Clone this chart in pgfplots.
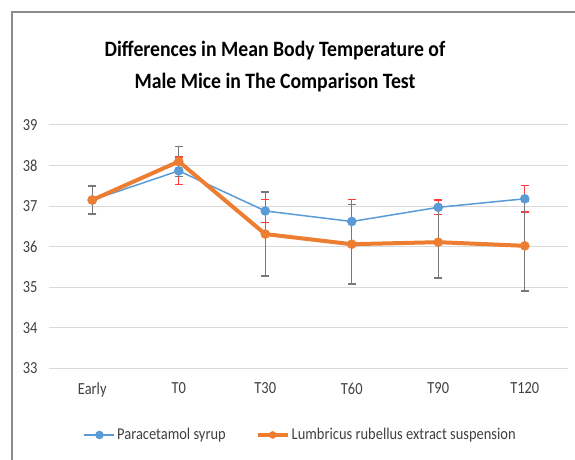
\documentclass[border=0pt]{standalone}
\usepackage{pgfplots}
\pgfplotsset{compat=1.18}
\usepackage{fontspec}
\setmainfont{Carlito}[FakeStretch=0.85]
\newfontfamily\titlefont{Carlito}[FakeStretch=0.9]
\newfontfamily\legfont{Carlito}[FakeStretch=0.88]
\definecolor{blueS}{RGB}{91,155,213}
\definecolor{orangeS}{RGB}{237,125,49}
\definecolor{gridc}{RGB}{217,217,217}
\definecolor{txt}{RGB}{64,64,64}
\definecolor{errR}{RGB}{255,60,60}
\definecolor{errG}{RGB}{120,120,120}
\begin{document}
\begin{tikzpicture}[x=1bp,y=1bp]
\useasboundingbox (0,0) rectangle (575,460);
\draw[color=black!45, line width=1.5bp] (12,-5) -- (12,448) -- (580,448);
\node[font=\titlefont\bfseries\fontsize{22}{33}\selectfont, align=center, text=black] at (275,393.5) {Differences in Mean Body Temperature of\\Male Mice in The Comparison Test};
\begin{axis}[
  at={(49bp,91.7bp)}, anchor=south west,
  scale only axis, width=519bp, height=243.3bp,
  xmin=-0.5, xmax=5.5, ymin=33, ymax=39,
  ytick={33,...,39},
  xtick={0,...,5},
  xticklabels={Early,T0,T30,T60,T90,T120},
  ymajorgrids, grid style={gridc, line width=1bp},
  axis line style={draw=none},
  major tick length=0pt,
  /pgf/number format/assume math mode=true,
  ticklabel style={font=\fontsize{17}{20}\selectfont, text=txt},
  yticklabel style={xshift=-8bp},
  xticklabel style={yshift=-11bp},
  legend columns=2,
  legend style={draw=none, fill=none, at={(0.485,-0.274)}, anchor=center,
    font=\legfont\fontsize{16.5}{19}\selectfont, text=txt,
    /tikz/every even column/.append style={column sep=28bp}},
  legend image code/.code={\draw[mark repeat=2,mark phase=2,mark size=3.5bp] plot coordinates {(0bp,0bp)(15bp,0bp)(30bp,0bp)};},
  clip=false,
]
\addplot[color=blueS, line width=1.5bp, mark=*, mark size=4bp, mark options={solid, fill=blueS, draw=blueS},
  error bars/.cd, y dir=both, y explicit,
  error bar style={color=errR, line width=1.2bp},
  error mark options={color=errR, line width=1.6bp, rotate=90, mark size=4bp}]
  coordinates {
  (0,37.15) +- (0,0.33)
  (1,37.87) +- (0,0.34)
  (2,36.88) +- (0,0.28)
  (3,36.62) +- (0,0.54)
  (4,36.97) +- (0,0.18)
  (5,37.18) +- (0,0.33)
  };
\addlegendentry{Paracetamol syrup}
\addplot[color=orangeS, line width=4bp, mark=*, mark size=4.5bp, mark options={solid, fill=orangeS, draw=orangeS, line width=0.5bp},
  error bars/.cd, y dir=both, y explicit,
  error bar style={color=errG, line width=1.2bp},
  error mark options={color=errG, line width=1.6bp, rotate=90, mark size=4bp}]
  coordinates {
  (0,37.15) +- (0,0.34)
  (1,38.10) +- (0,0.37)
  (2,36.31) +- (0,1.04)
  (3,36.06) +- (0,0.98)
  (4,36.11) +- (0,0.88)
  (5,36.02) +- (0,1.11)
  };
\addlegendentry{Lumbricus rubellus extract suspension}
\end{axis}
\end{tikzpicture}
\end{document}
